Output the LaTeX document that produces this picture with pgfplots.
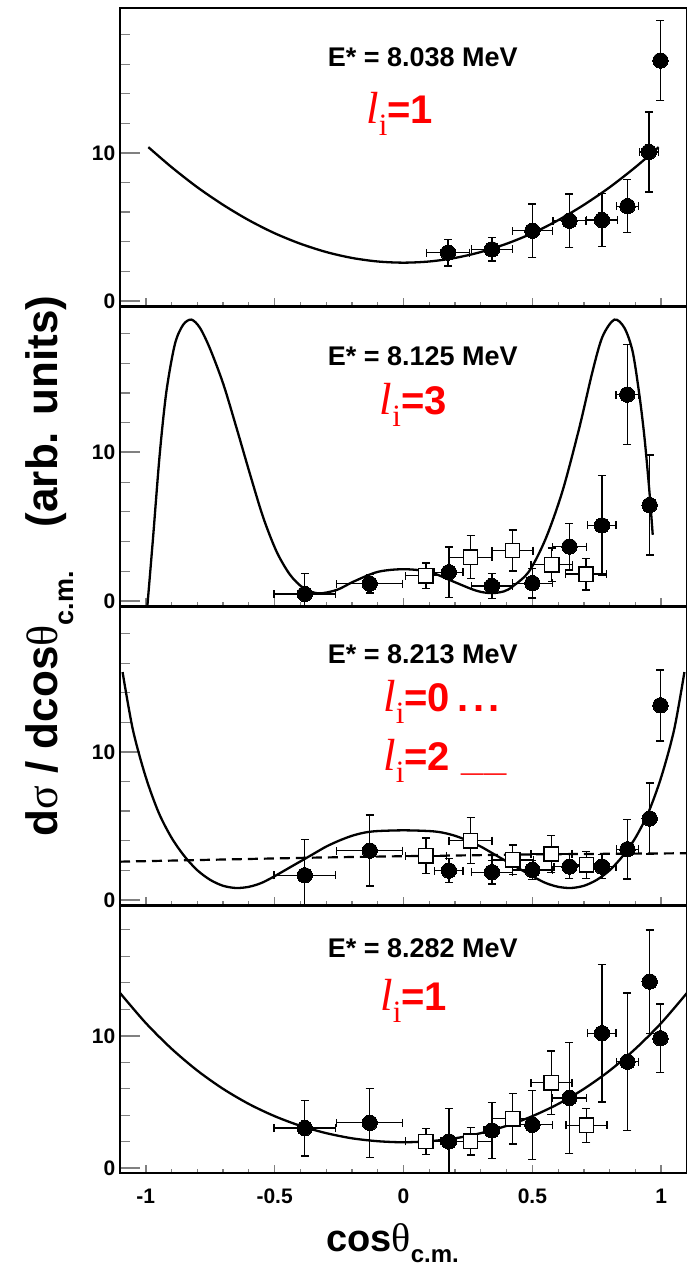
\documentclass[border=0pt]{standalone}
\usepackage{pgfplots}
\pgfplotsset{compat=1.18}
\usepackage{pgfplotstable}
\usepackage{fontspec}
\setmainfont{Liberation Sans}
\newfontfamily\serif{Liberation Serif}

\newcommand\fs[1]{\fontsize{#1}{#1}\selectfont}
% orbital angular momentum label: italic l, upright subscript i, bold value
\newcommand\lbl[1]{{\serif\itshape\fs{45}l}{\serif\fs{31}\raisebox{-12pt}{i}}{\bfseries\fs{40}#1}}

% ---------------- E* = 8.038 MeV ----------------
\pgfplotstableread{
x y ex ey
0.173 3.26 0.084 0.90
0.343 3.48 0.080 0.80
0.500 4.74 0.077 1.80
0.644 5.42 0.064 1.80
0.770 5.46 0.060 1.80
0.869 6.40 0.043 1.80
0.952 10.07 0.037 2.70
0.997 16.25 0.000 2.70
}\circA
\pgfplotstableread{
x y
-0.99 10.39
-0.9 9.04
-0.8 7.68
-0.7 6.49
-0.6 5.45
-0.5 4.57
-0.4 3.86
-0.3 3.30
-0.2 2.90
-0.1 2.66
0.0 2.58
0.1 2.66
0.2 2.90
0.3 3.30
0.4 3.86
0.5 4.57
0.6 5.45
0.7 6.49
0.8 7.68
0.9 9.04
0.99 10.39
}\fitA

% ---------------- E* = 8.125 MeV ----------------
\pgfplotstableread{
x y ex ey
-0.383 0.46 0.120 1.40
-0.131 1.15 0.128 0.63
0.176 1.93 0.055 1.70
0.343 1.00 0.080 0.85
0.500 1.19 0.077 1.00
0.644 3.66 0.065 1.57
0.770 5.08 0.055 3.37
0.868 13.90 0.043 3.37
0.955 6.45 0.020 3.37
}\circB
\pgfplotstableread{
x y ex ey
0.087 1.69 0.080 0.85
0.260 2.94 0.083 1.45
0.423 3.39 0.080 1.38
0.575 2.43 0.080 1.12
0.708 1.80 0.080 1.07
}\sqB
\pgfplotstableread{
x y
-0.995 -0.60
-0.972 4.20
-0.946 9.85
-0.920 14.10
-0.887 17.30
-0.855 18.60
-0.823 18.95
-0.790 18.40
-0.751 17.00
-0.699 14.60
-0.647 11.60
-0.595 8.50
-0.544 5.60
-0.492 3.30
-0.440 1.75
-0.388 0.86
-0.330 0.50
-0.258 0.74
-0.193 1.30
-0.100 1.95
0.000 2.13
0.100 1.95
0.193 1.30
0.260 0.82
0.300 0.60
0.345 0.52
0.390 0.64
0.423 0.96
0.487 1.98
0.552 4.20
0.617 7.40
0.682 11.65
0.734 15.50
0.772 17.80
0.818 18.95
0.857 18.40
0.889 16.80
0.915 13.90
0.935 11.00
0.954 7.40
0.967 4.45
}\fitB

% ---------------- E* = 8.213 MeV ----------------
\pgfplotstableread{
x y ex ey
-0.383 1.66 0.120 2.40
-0.131 3.33 0.128 2.40
0.176 1.98 0.055 0.80
0.343 1.87 0.080 0.80
0.500 2.02 0.077 0.65
0.644 2.25 0.060 0.80
0.770 2.25 0.055 0.80
0.869 3.42 0.043 2.00
0.955 5.50 0.020 2.40
0.997 13.15 0.000 2.40
}\circC
\pgfplotstableread{
x y ex ey
0.087 2.97 0.080 1.20
0.260 4.00 0.083 1.55
0.424 2.70 0.080 1.00
0.574 3.10 0.080 1.25
0.710 2.36 0.080 0.90
}\sqC
\pgfplotstableread{
x y
-1.09 15.40
-1.05 11.50
-1.00 8.30
-0.95 5.90
-0.90 4.20
-0.85 2.95
-0.80 2.00
-0.75 1.35
-0.70 0.95
-0.65 0.80
-0.60 0.88
-0.55 1.15
-0.50 1.60
-0.45 2.10
-0.40 2.60
-0.35 3.10
-0.30 3.60
-0.25 4.00
-0.20 4.33
-0.15 4.55
-0.10 4.65
0.00 4.70
0.10 4.65
0.15 4.55
0.20 4.33
0.25 4.00
0.30 3.60
0.35 3.10
0.40 2.60
0.45 2.10
0.50 1.60
0.55 1.15
0.60 0.88
0.65 0.80
0.70 0.95
0.75 1.35
0.80 2.00
0.85 2.95
0.90 4.20
0.95 5.90
1.00 8.30
1.05 11.50
1.09 15.40
}\fitCtwo
\pgfplotstableread{
x y
-1.10 2.58
-0.36 2.85
0.00 2.95
0.54 3.08
1.10 3.15
}\fitCzero

% ---------------- E* = 8.282 MeV ----------------
\pgfplotstableread{
x y ex ey
-0.383 3.04 0.120 2.10
-0.131 3.44 0.128 2.60
0.176 2.03 0.030 2.50
0.343 2.86 0.030 2.10
0.500 3.29 0.077 2.60
0.644 5.32 0.065 4.20
0.770 10.20 0.055 5.20
0.869 8.05 0.043 5.20
0.955 14.10 0.020 3.90
0.997 9.82 0.000 2.60
}\circD
\pgfplotstableread{
x y ex ey
0.087 2.03 0.080 1.00
0.260 2.05 0.083 1.05
0.424 3.75 0.080 1.90
0.574 6.46 0.080 2.40
0.710 3.24 0.080 1.30
}\sqD
\pgfplotstableread{
x y
-1.1 13.24
-1.0 10.97
-0.9 9.03
-0.8 7.38
-0.7 6.00
-0.6 4.86
-0.5 3.94
-0.4 3.21
-0.3 2.66
-0.2 2.27
-0.1 2.05
0.0 1.97
0.1 2.05
0.2 2.27
0.3 2.66
0.4 3.21
0.5 3.94
0.6 4.86
0.7 6.00
0.8 7.38
0.9 9.03
1.0 10.97
1.1 13.24
}\fitD

\pgfplotsset{
  panel/.style={
    scale only axis, width=567pt,
    xmin=-1.1, xmax=1.1, ymin=-0.35, ymax=19.8,
    axis line style={line width=2.2pt},
    tick align=inside, xtick pos=lower, ytick pos=left,
    xtick={-1,-0.5,0,0.5,1},
    minor xtick={-0.9,-0.8,-0.7,-0.6,-0.4,-0.3,-0.2,-0.1,0.1,0.2,0.3,0.4,0.6,0.7,0.8,0.9},
    ytick={0,10}, minor ytick={2,4,6,8,12,14,16,18},
    major tick length=20pt, minor tick length=10pt,
    major x tick style={line width=1.6pt, /pgfplots/major tick length=8pt},
    minor x tick style={line width=1.2pt, /pgfplots/minor tick length=4pt},
    major y tick style={line width=2pt},
    minor y tick style={line width=1.2pt},
    xticklabels={},
    ticklabel style={font=\bfseries\fs{21}},
    yticklabel style={anchor=east, inner sep=0pt, xshift=-4.5pt},
    /pgf/number format/assume math mode=true,
  },
  errs/.style={
    error bars/.cd, x dir=both, x explicit, y dir=both, y explicit,
    error mark=|,
    error bar style={line width=1.3pt, black},
    error mark options={line width=1.4pt, mark size=4pt, black}},
  circ/.style={only marks, black, mark=*, mark size=7.7pt,
    mark options={draw=black, fill=black, line width=0pt}, errs},
  sq/.style={only marks, black, mark=square*, mark size=7.2pt,
    mark options={draw=black, fill=white, line width=1.5pt}, errs},
  fitline/.style={black, line width=2.3pt, smooth, no markers},
}
\tikzset{
  etitle/.style={anchor=base, font=\bfseries\fs{27}},
  lvalue/.style={anchor=base west, inner sep=0pt, red},
}

\begin{document}
\begin{tikzpicture}

% top panel
\begin{axis}[panel, at={(120pt,-306pt)}, anchor=south west, height=298pt]
\addplot[fitline] table[x=x,y=y]{\fitA};
\addplot[circ] table[x=x,y=y,x error=ex,y error=ey]{\circA};
\node[etitle] at (axis description cs:0.534,0.805) {E* = 8.038 MeV};
\node[lvalue] at (axis description cs:0.434,0.611) {\lbl{=1}};
\end{axis}

% second panel
\begin{axis}[panel, at={(120pt,-606pt)}, anchor=south west, height=299pt]
\addplot[fitline] table[x=x,y=y]{\fitB};
\addplot[sq] table[x=x,y=y,x error=ex,y error=ey]{\sqB};
\addplot[circ] table[x=x,y=y,x error=ex,y error=ey]{\circB};
\node[etitle] at (axis description cs:0.534,0.806) {E* = 8.125 MeV};
\node[lvalue] at (axis description cs:0.458,0.639) {\lbl{=3}};
\end{axis}

% third panel
\begin{axis}[panel, at={(120pt,-905pt)}, anchor=south west, height=298pt]
\addplot[black, line width=2.2pt, dash pattern=on 10pt off 6pt, no markers] table[x=x,y=y]{\fitCzero};
\addplot[fitline] table[x=x,y=y]{\fitCtwo};
\addplot[sq] table[x=x,y=y,x error=ex,y error=ey]{\sqC};
\addplot[circ] table[x=x,y=y,x error=ex,y error=ey]{\circC};
\node[etitle] at (axis description cs:0.534,0.811) {E* = 8.213 MeV};
\node[lvalue] at (axis description cs:0.464,0.649) {\lbl{=0\hspace{8pt}.\kern4pt.\kern4pt.}};
\node[lvalue] at (axis description cs:0.464,0.453) {\lbl{=2\hspace{12pt}\_\_}};
\end{axis}

% bottom panel
\begin{axis}[panel, at={(120pt,-1173pt)}, anchor=south west, height=267pt,
  xticklabels={-1,-0.5,0,0.5,1},
  xticklabel style={anchor=north, inner sep=0pt, yshift=-16pt}]
\addplot[fitline] table[x=x,y=y]{\fitD};
\addplot[sq] table[x=x,y=y,x error=ex,y error=ey]{\sqD};
\addplot[circ] table[x=x,y=y,x error=ex,y error=ey]{\circD};
\node[etitle] at (axis description cs:0.534,0.808) {E* = 8.282 MeV};
\node[lvalue] at (axis description cs:0.459,0.610) {\lbl{=1}};
\end{axis}

% axis titles
\node[rotate=90, anchor=base, inner sep=0pt, font=\bfseries\fs{44}] at (57pt,-566pt)
  {d{\mdseries\serif σ} / dcos{\mdseries\serif θ}\raisebox{-16pt}{\fs{27}c.m.}\hspace{44pt}(arb. units)};
\node[anchor=base west, inner sep=0pt, font=\bfseries\fs{38}] at (326pt,-1251pt)
  {cos{\mdseries\serif\fs{40}θ}\raisebox{-11pt}{\fs{24}c.m.}};

\pgfresetboundingbox
\useasboundingbox (0pt,0pt) rectangle (686pt,-1268pt);
\end{tikzpicture}
\end{document}
